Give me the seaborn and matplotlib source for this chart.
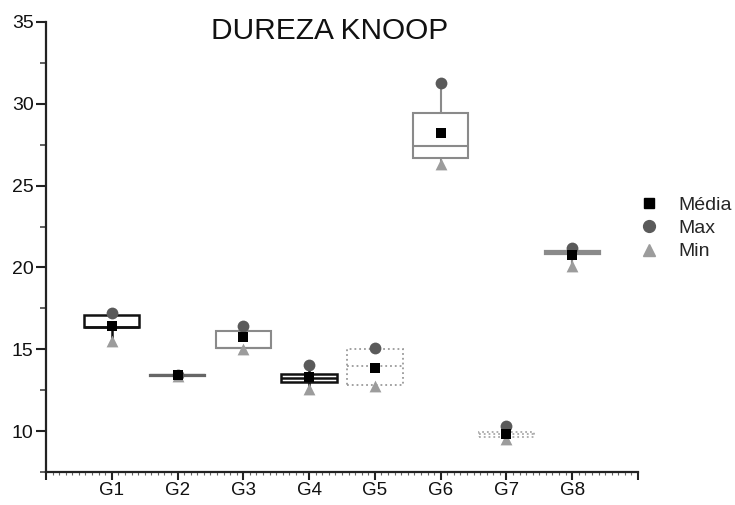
import numpy as np
import pandas as pd
import matplotlib
matplotlib.use("Agg")
import matplotlib.pyplot as plt
from matplotlib.lines import Line2D
from matplotlib.ticker import MultipleLocator, FixedLocator
import seaborn as sns

# ---- data ----
groups = ["G1", "G2", "G3", "G4", "G5", "G6", "G7", "G8"]
q1     = [16.35, 13.38, 15.05, 13.00, 12.80, 26.70, 9.65, 20.80]
median = [16.35, 13.40, 15.05, 13.25, 14.00, 27.40, 9.80, 20.90]
q3     = [17.10, 13.42, 16.10, 13.48, 15.00, 29.45, 9.95, 21.00]
media  = [16.45, 13.40, 15.75, 13.30, 13.85, 28.20, 9.80, 20.75]
maxv   = [17.20, 13.45, 16.40, 14.05, 15.05, 31.30, 10.30, 21.20]
minv   = [15.50, 13.35, 15.00, 12.60, 12.75, 26.30, 9.50, 20.10]

# styles per box (edge colour, line style, line width)
edge_colors = ["#111111", "#666666", "#8a8a8a", "#111111", "#9a9a9a", "#8a8a8a", "#aaaaaa", "#8a8a8a"]
edge_styles = ["-", "-", "-", "-", ":", "-", ":", "-"]
edge_widths = [1.8, 1.6, 1.5, 1.8, 1.3, 1.5, 1.3, 1.6]

sns.set_theme(style="ticks")
plt.rcParams["font.family"] = ["Liberation Sans", "DejaVu Sans"]

fig = plt.figure(figsize=(7.35, 5.05), dpi=100)
ax = fig.add_axes([46 / 735, 1 - 472 / 505, (638 - 46) / 735, (472 - 22) / 505])

for i, g in enumerate(groups):
    vals = [minv[i], q1[i], median[i], q3[i], maxv[i]]
    sub = pd.DataFrame({"grupo": [g] * 5, "valor": vals})
    sns.boxplot(data=sub, x="grupo", y="valor", order=groups, ax=ax,
                width=0.84, whis=(0, 100), showcaps=False, showfliers=False,
                color="white", linecolor=edge_colors[i], linewidth=edge_widths[i],
                boxprops={"linestyle": edge_styles[i]},
                medianprops={"linestyle": edge_styles[i], "color": edge_colors[i]},
                whiskerprops={"linestyle": "-", "color": edge_colors[i]})

stats = pd.DataFrame({"grupo": groups, "media": media, "max": maxv, "min": minv})
sns.stripplot(data=stats, x="grupo", y="max", order=groups, jitter=False, ax=ax,
              marker="o", color="#5a5a5a", size=8.5, linewidth=0, zorder=4)
sns.stripplot(data=stats, x="grupo", y="min", order=groups, jitter=False, ax=ax,
              marker="^", color="#9c9c9c", size=8.5, linewidth=0, zorder=4)
sns.stripplot(data=stats, x="grupo", y="media", order=groups, jitter=False, ax=ax,
              marker="s", color="#000000", size=7.2, linewidth=0, zorder=5)

ax.set_xlim(-1, 8)
ax.set_ylim(7.5, 35)
ax.xaxis.set_major_locator(FixedLocator(list(range(-1, 9))))
ax.set_xticklabels([""] + groups + [""])
ax.xaxis.set_minor_locator(MultipleLocator(0.1))
ax.yaxis.set_major_locator(FixedLocator([10, 15, 20, 25, 30, 35]))
ax.yaxis.set_minor_locator(MultipleLocator(2.5))
ax.set_xlabel("")
ax.set_ylabel("")
for s in ["top", "right"]:
    ax.spines[s].set_visible(False)
for s in ["left", "bottom"]:
    ax.spines[s].set_linewidth(1.6)
    ax.spines[s].set_color("#222222")
ax.tick_params(axis="y", which="major", length=7, width=1.5, labelsize=14,
               colors="#222222", labelcolor="#111111", pad=2)
ax.tick_params(axis="x", which="major", length=6, width=1.5, labelsize=13.5,
               colors="#222222", labelcolor="#111111", pad=1.5)
ax.tick_params(axis="y", which="minor", length=4, width=1.2, colors="#444444")
ax.tick_params(axis="x", which="minor", length=2, width=0.8, colors="#666666")

fig.text(330 / 735, 1 - 31 / 505, "DUREZA KNOOP", ha="center", va="center",
         fontsize=21.5, color="#111111")

handles = [
    Line2D([], [], linestyle="none", marker="s", color="#000000", markersize=7.2),
    Line2D([], [], linestyle="none", marker="o", color="#5a5a5a", markersize=8.5),
    Line2D([], [], linestyle="none", marker="^", color="#9c9c9c", markersize=8.5),
]
fig.legend(handles, ["Média", "Max", "Min"], loc="upper left",
           bbox_to_anchor=(640 / 735, 1 - 196 / 505), frameon=False,
           fontsize=14, handlelength=0.9, handletextpad=1.05,
           labelspacing=0.3, borderpad=0, borderaxespad=0)

fig.savefig("out.png", dpi=100)
